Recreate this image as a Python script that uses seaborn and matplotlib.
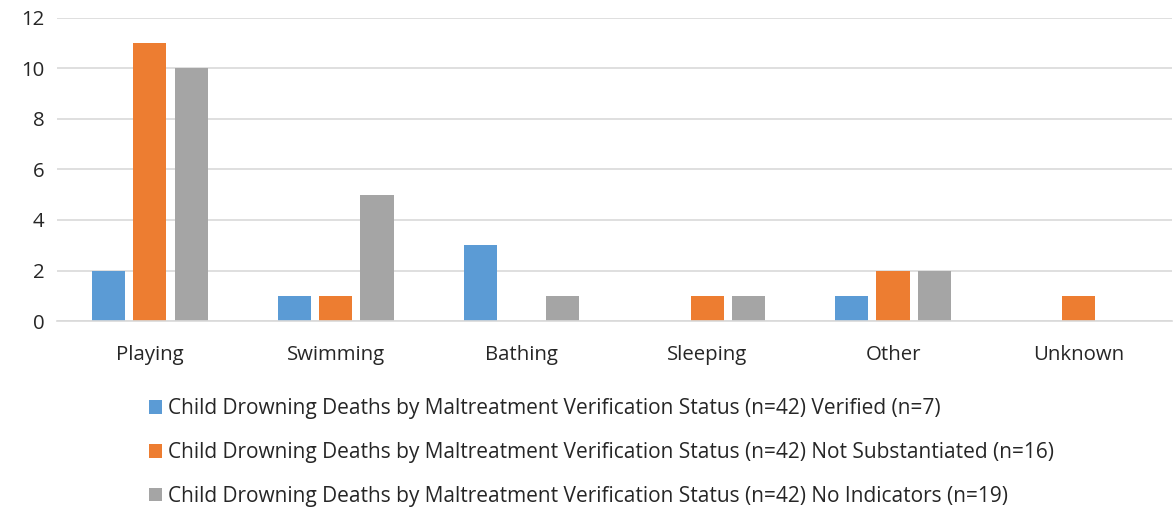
import pandas as pd
import matplotlib.pyplot as plt
import seaborn as sns

# Données
activities = ['Playing', 'Swimming', 'Bathing', 'Sleeping', 'Other', 'Unknown']
verified = [2, 1, 3, 0, 1, 0]
not_substantiated = [11, 1, 0, 1, 2, 1]
no_indicators = [10, 5, 1, 1, 2, 0]

prefix = 'Child Drowning Deaths by Maltreatment Verification Status (n=42) '
series_names = [prefix + 'Verified (n=7)',
                prefix + 'Not Substantiated (n=16)',
                prefix + 'No Indicators (n=19)']
colors = ['#5b9bd5', '#ed7d31', '#a5a5a5']

df = pd.DataFrame({
    'activity': activities * 3,
    'series': [series_names[0]] * 6 + [series_names[1]] * 6 + [series_names[2]] * 6,
    'count': verified + not_substantiated + no_indicators,
})

sns.set_style('white')
plt.rcParams['font.family'] = ['Open Sans', 'DejaVu Sans']

fig = plt.figure(figsize=(11.74, 5.12), dpi=100)
ax = fig.add_axes([0.0486, 0.373, 0.9494, 0.592])

sns.barplot(data=df, x='activity', y='count', hue='series', palette=colors,
            saturation=1, width=0.667, gap=0.2, linewidth=0, ax=ax)

ax.set_ylim(0, 12)
ax.set_yticks(range(0, 13, 2))
ax.set_xlim(-0.5, 5.5)
ax.yaxis.grid(True, color='#d9d9d9', linewidth=1.2)
ax.set_axisbelow(True)
for side in ['top', 'right', 'left']:
    ax.spines[side].set_visible(False)
ax.spines['bottom'].set_color('#d9d9d9')
ax.spines['bottom'].set_linewidth(1.2)
ax.tick_params(axis='both', length=0, labelsize=14.7, colors='#262626')
ax.tick_params(axis='y', pad=9)
ax.tick_params(axis='x', pad=17)
ax.set_xlabel('')
ax.set_ylabel('')

sns.move_legend(ax, 'upper left', bbox_to_anchor=(0.118, 0.243),
                bbox_transform=fig.transFigure, frameon=False, title=None,
                fontsize=15, handlelength=0.65, handleheight=0.65,
                handletextpad=0.25, labelspacing=1.1, borderpad=0)
for t in ax.get_legend().get_texts():
    t.set_color('#262626')

plt.savefig('out.png', dpi=100)
